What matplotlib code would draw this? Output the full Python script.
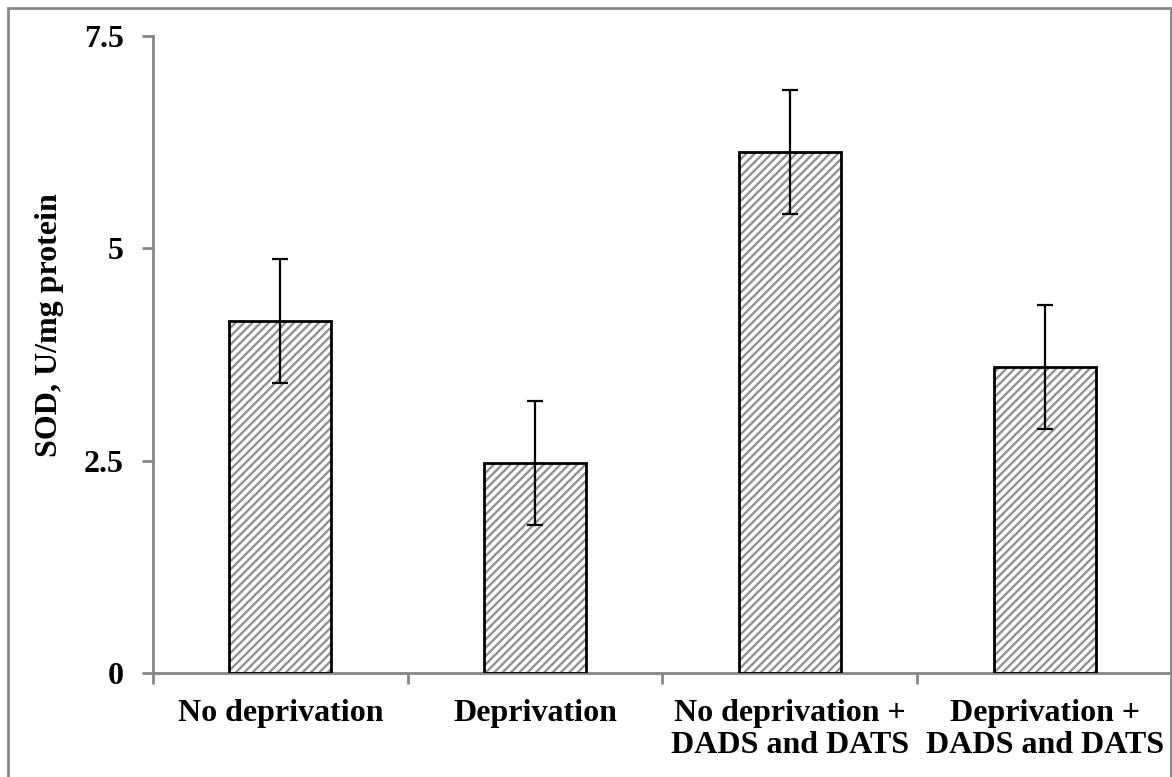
import matplotlib
matplotlib.use('Agg')
import matplotlib.pyplot as plt
from matplotlib.patches import Rectangle
import numpy as np

plt.rcParams['font.family'] = ['Liberation Serif', 'DejaVu Serif']
plt.rcParams['font.weight'] = 'bold'
plt.rcParams['axes.labelweight'] = 'bold'
plt.rcParams['hatch.linewidth'] = 1.7

categories = ['No deprivation', 'Deprivation', 'No deprivation +\nDADS and DATS', 'Deprivation +\nDADS and DATS']
sod_mean = [4.15, 2.47, 6.13, 3.60]
sod_err = [0.73, 0.73, 0.73, 0.73]
y_ticks = [0, 2.5, 5, 7.5]
y_tick_labels = ['0', '2.5', '5', '7.5']

AXIS_GREY = '#868686'

fig = plt.figure(figsize=(11.72, 7.77), dpi=100)
ax = fig.add_axes([0.1305, 0.1338, 0.8695, 0.8198])

x = np.arange(len(categories))
# hatch layer first, then a black outline on top
ax.bar(x, sod_mean, width=0.4, color='white', edgecolor='#929292', hatch='////', linewidth=0, zorder=2)
ax.bar(x, sod_mean, width=0.4, fill=False, edgecolor='black', linewidth=2, zorder=3)
ax.errorbar(x, sod_mean, yerr=sod_err, fmt='none', ecolor='black', elinewidth=1.6, capsize=6, capthick=1.6, zorder=4)

ax.set_xlim(-0.5, len(categories) - 0.5)
ax.set_ylim(0, 7.5)
ax.set_yticks(y_ticks)
ax.set_yticklabels(y_tick_labels, fontsize=23)
ax.set_xticks(x)
ax.set_xticklabels(categories, fontsize=23, va='top', linespacing=1.12)
ax.set_xticks(np.arange(len(categories) + 1) - 0.5, minor=True)
ax.tick_params(axis='x', which='major', length=0, pad=19)
ax.tick_params(axis='x', which='minor', length=8, width=2, color=AXIS_GREY, direction='out')
ax.tick_params(axis='y', length=8, width=2, color=AXIS_GREY, direction='out', pad=13)
ax.set_ylabel('SOD, U/mg protein', fontsize=23, labelpad=14)
ax.yaxis.label.set_y(0.546)

for side in ['top', 'right']:
    ax.spines[side].set_visible(False)
for side in ['left', 'bottom']:
    ax.spines[side].set_color(AXIS_GREY)
    ax.spines[side].set_linewidth(2)

# outer frame, open at the bottom of the picture
frame = Rectangle((8 / 1172, -0.05), (1171 - 8) / 1172, 1.05 - 8 / 777,
                  transform=fig.transFigure, fill=False, edgecolor=AXIS_GREY, linewidth=2, clip_on=False)
fig.patches.append(frame)

fig.savefig('out.png', dpi=100)
